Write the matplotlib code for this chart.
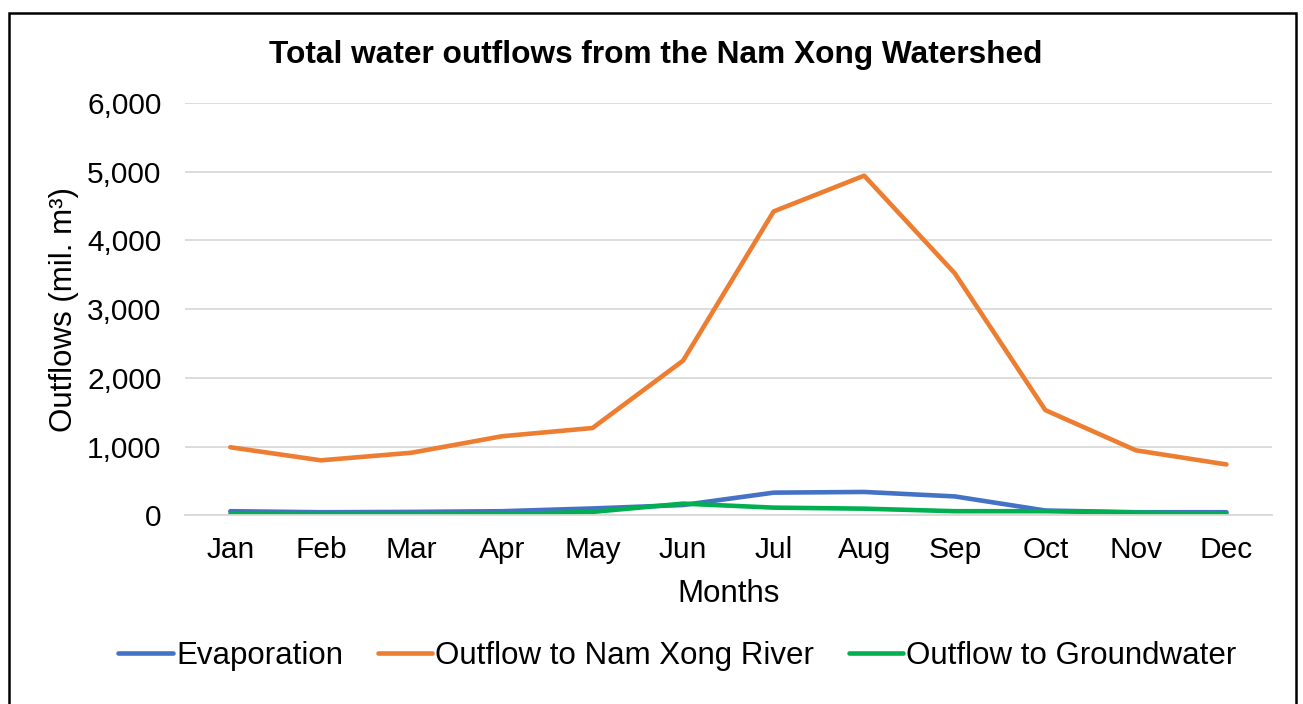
import matplotlib
matplotlib.use("Agg")
import matplotlib.pyplot as plt
from matplotlib.ticker import FuncFormatter
from matplotlib.patches import Rectangle

plt.rcParams['font.family'] = ['Liberation Sans', 'DejaVu Sans']

months = ["Jan", "Feb", "Mar", "Apr", "May", "Jun", "Jul", "Aug", "Sep", "Oct", "Nov", "Dec"]
evaporation = [60, 45, 50, 60, 100, 150, 330, 340, 275, 70, 45, 45]
river = [990, 800, 910, 1150, 1270, 2250, 4420, 4940, 3520, 1530, 945, 740]
groundwater = [15, 12, 12, 15, 50, 170, 112, 97, 60, 60, 40, 20]

fig = plt.figure(figsize=(13.03, 7.04), dpi=100)
ax = fig.add_axes([0.142, 0.268, 0.834, 0.586])

x = range(len(months))
ax.plot(x, evaporation, color="#4472C4", lw=3.3, label="Evaporation", solid_capstyle="round")
ax.plot(x, river, color="#ED7D31", lw=3.3, label="Outflow to Nam Xong River", solid_capstyle="round")
ax.plot(x, groundwater, color="#00B050", lw=3.3, label="Outflow to Groundwater", solid_capstyle="round")

ax.set_xlim(-0.5, 11.5)
ax.set_ylim(0, 6000)
ax.set_yticks(range(0, 6001, 1000))
ax.yaxis.set_major_formatter(FuncFormatter(lambda v, p: f"{int(v):,}"))
ax.set_xticks(list(x))
ax.set_xticklabels(months)
ax.tick_params(axis="both", length=0, labelsize=21.5, colors="black")
ax.tick_params(axis="x", pad=15)
ax.tick_params(axis="y", pad=17)
ax.grid(axis="y", color="#d9d9d9", lw=1.3)
ax.set_axisbelow(True)
for s in ["top", "right", "left"]:
    ax.spines[s].set_visible(False)
ax.spines["bottom"].set_color("#d9d9d9")
ax.spines["bottom"].set_linewidth(1.3)

ax.set_xlabel("Months", fontsize=22.5, labelpad=11)
ax.set_ylabel("Outflows (mil. m³)", fontsize=22.5, labelpad=6)

fig.text(0.503, 0.922, "Total water outflows from the Nam Xong Watershed",
         ha="center", va="center", fontsize=22.8, fontweight="bold")

leg = fig.legend(loc="center", bbox_to_anchor=(0.52, 0.068), ncol=3, frameon=False,
                 fontsize=22.5, handlelength=1.75, handletextpad=0.1, columnspacing=1.1)

fig.add_artist(Rectangle((9 / 1303, -0.01), (1296 - 9) / 1303, 1 - 13 / 704 + 0.01,
                         transform=fig.transFigure, fill=False, ec="black", lw=1.8))

fig.savefig("out.png", dpi=100)
